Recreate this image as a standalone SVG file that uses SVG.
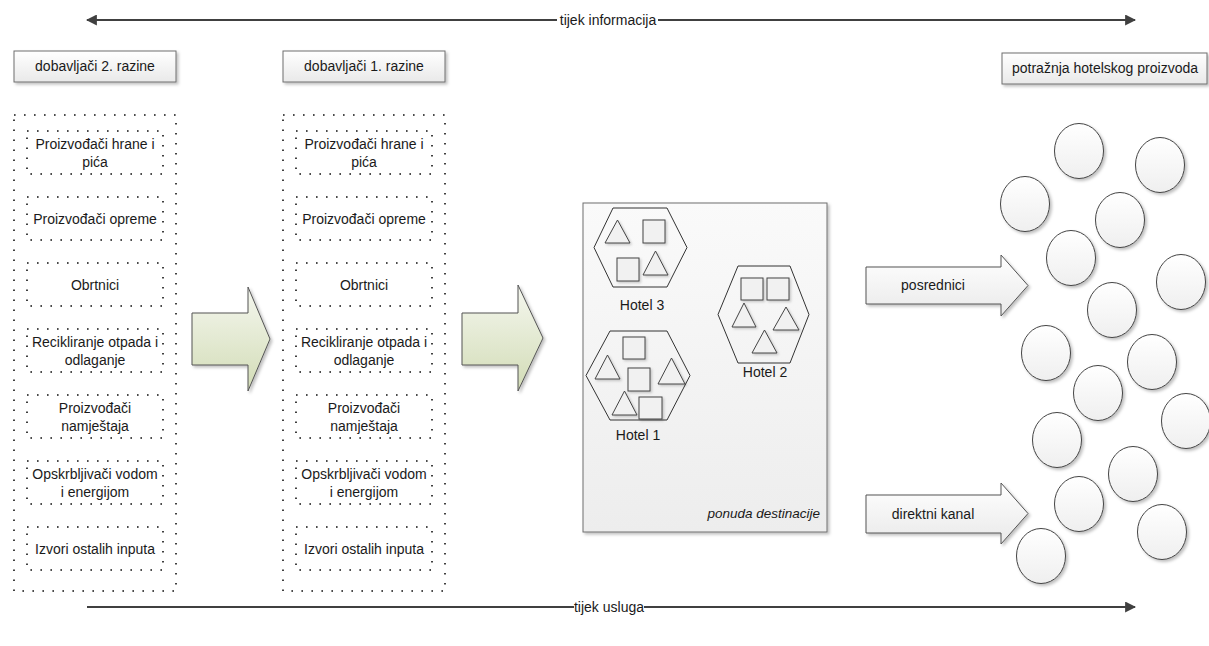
<svg xmlns="http://www.w3.org/2000/svg" width="1209" height="646" viewBox="0 0 1209 646">
<style>
text{font-family:"Liberation Sans",Arial,sans-serif;font-size:14px;fill:#1a1a1a;text-anchor:middle}
.hdr{fill:url(#gGray);stroke:#6e6e6e;stroke-width:1;filter:url(#sh)}
.dot{fill:none;stroke:#111;stroke-width:1.6;stroke-dasharray:1.6 8.4}
.flow{stroke:#404040;stroke-width:2;fill:none}
.green{fill:url(#gGreen);stroke:#555;stroke-width:1;filter:url(#sh)}
.grey{fill:url(#gGray);stroke:#555;stroke-width:1;filter:url(#sh)}
.hex{fill:none;stroke:#333;stroke-width:1}
.sq{fill:#f1f1f1;stroke:#444;stroke-width:1;filter:url(#sh2)}
.cir{fill:url(#gCir);stroke:#444;stroke-width:1;filter:url(#sh)}
.it{font-style:italic;font-size:13.5px}
</style>
<defs>
<linearGradient id="gGray" x1="0" y1="0" x2="0" y2="1"><stop offset="0" stop-color="#ffffff"/><stop offset="1" stop-color="#e9e9e9"/></linearGradient>
<linearGradient id="gCir" x1="0" y1="0" x2="0" y2="1"><stop offset="0" stop-color="#ffffff"/><stop offset="1" stop-color="#efefef"/></linearGradient>
<linearGradient id="gGreen" x1="0" y1="0" x2="0" y2="1"><stop offset="0" stop-color="#f5f7ef"/><stop offset="1" stop-color="#d2dcb6"/></linearGradient>
<linearGradient id="gBox" x1="0" y1="0" x2="0" y2="1"><stop offset="0" stop-color="#fafafa"/><stop offset="1" stop-color="#ededed"/></linearGradient>
<filter id="sh" x="-20%" y="-20%" width="150%" height="150%"><feDropShadow dx="2" dy="2" stdDeviation="1.5" flood-color="#000" flood-opacity="0.25"/></filter>
<filter id="sh2" x="-20%" y="-20%" width="150%" height="150%"><feDropShadow dx="1.5" dy="1.5" stdDeviation="1" flood-color="#000" flood-opacity="0.2"/></filter>
<marker id="ah" viewBox="0 0 10 10" refX="9" refY="5" markerWidth="11" markerHeight="11" markerUnits="userSpaceOnUse" orient="auto-start-reverse"><path d="M0,0 L10,5 L0,10 Z" fill="#404040"/></marker>
</defs>
<rect width="1209" height="646" fill="#ffffff"/>

<g id="connectors">
  <line class="flow" x1="87" y1="20" x2="557" y2="20" marker-start="url(#ah)"/>
  <line class="flow" x1="658" y1="20" x2="1135" y2="20" marker-end="url(#ah)"/>
  <text x="608" y="25">tijek informacija</text>
  <line class="flow" x1="87" y1="607" x2="574" y2="607"/>
  <line class="flow" x1="644" y1="607" x2="1135" y2="607" marker-end="url(#ah)"/>
  <text x="609" y="612">tijek usluga</text>
  <path class="green" d="M192,313 L248,313 L248,287 L270,339 L248,391 L248,365 L192,365 Z"/>
  <path class="green" d="M462,313 L518,313 L518,285 L543,338 L518,391 L518,365 L462,365 Z"/>
  <g id="posrednici">
    <path class="grey" d="M866,267 L1001,267 L1001,255 L1028,285.5 L1001,316 L1001,304 L866,304 Z"/>
    <text x="933" y="290">posrednici</text>
  </g>
  <g id="direktni">
    <path class="grey" d="M866,495 L1001,495 L1001,483 L1028,513.5 L1001,544 L1001,533 L866,533 Z"/>
    <text x="933" y="519">direktni kanal</text>
  </g>
</g>

<g id="hdr2">
  <rect class="hdr" x="14" y="51" width="162" height="31"/>
  <text x="95" y="71">dobavljači 2. razine</text>
</g>
<g id="hdr1">
  <rect class="hdr" x="283" y="51" width="162" height="31"/>
  <text x="364" y="71">dobavljači 1. razine</text>
</g>
<g id="hdrDemand">
  <rect class="hdr" x="1002" y="53" width="205" height="31"/>
  <text x="1105" y="73">potražnja hotelskog proizvoda</text>
</g>

<g id="col2">
  <rect class="dot" x="14" y="115" width="162" height="476"/>
  <g id="c2-1"><rect class="dot" x="27" y="131" width="136" height="43"/><text x="95" y="149">Proizvođači hrane i</text><text x="95" y="167">pića</text></g>
  <g id="c2-2"><rect class="dot" x="27" y="197" width="136" height="43"/><text x="95" y="223.5">Proizvođači opreme</text></g>
  <g id="c2-3"><rect class="dot" x="27" y="263" width="136" height="43"/><text x="95" y="289.5">Obrtnici</text></g>
  <g id="c2-4"><rect class="dot" x="27" y="329" width="136" height="43"/><text x="95" y="347">Recikliranje otpada i</text><text x="95" y="365">odlaganje</text></g>
  <g id="c2-5"><rect class="dot" x="27" y="395" width="136" height="43"/><text x="95" y="413">Proizvođači</text><text x="95" y="431">namještaja</text></g>
  <g id="c2-6"><rect class="dot" x="27" y="461" width="136" height="43"/><text x="95" y="479">Opskrbljivači vodom</text><text x="95" y="497">i energijom</text></g>
  <g id="c2-7"><rect class="dot" x="27" y="527" width="136" height="43"/><text x="95" y="553.5">Izvori ostalih inputa</text></g>
</g>

<g id="col1">
  <rect class="dot" x="283" y="115" width="162" height="476"/>
  <g id="c1-1"><rect class="dot" x="296" y="131" width="136" height="43"/><text x="364" y="149">Proizvođači hrane i</text><text x="364" y="167">pića</text></g>
  <g id="c1-2"><rect class="dot" x="296" y="197" width="136" height="43"/><text x="364" y="223.5">Proizvođači opreme</text></g>
  <g id="c1-3"><rect class="dot" x="296" y="263" width="136" height="43"/><text x="364" y="289.5">Obrtnici</text></g>
  <g id="c1-4"><rect class="dot" x="296" y="329" width="136" height="43"/><text x="364" y="347">Recikliranje otpada i</text><text x="364" y="365">odlaganje</text></g>
  <g id="c1-5"><rect class="dot" x="296" y="395" width="136" height="43"/><text x="364" y="413">Proizvođači</text><text x="364" y="431">namještaja</text></g>
  <g id="c1-6"><rect class="dot" x="296" y="461" width="136" height="43"/><text x="364" y="479">Opskrbljivači vodom</text><text x="364" y="497">i energijom</text></g>
  <g id="c1-7"><rect class="dot" x="296" y="527" width="136" height="43"/><text x="364" y="553.5">Izvori ostalih inputa</text></g>
</g>

<g id="destination">
  <rect x="583" y="203" width="244" height="329" fill="url(#gBox)" stroke="#6e6e6e" stroke-width="1" filter="url(#sh)"/>
  <text class="it" x="820" y="518" style="text-anchor:end">ponuda destinacije</text>
  <g id="hotel3">
    <polygon class="hex" points="594,247.5 613,208 667,208 687,247.5 667,287 613,287"/>
    <polygon class="sq" points="605,243 617.5,220 630,243"/>
    <rect class="sq" x="643" y="220" width="22" height="23"/>
    <rect class="sq" x="617" y="258" width="22" height="23"/>
    <polygon class="sq" points="643,275 655.5,251 668,275"/>
    <text x="642" y="310">Hotel 3</text>
  </g>
  <g id="hotel1">
    <polygon class="hex" points="586,375.5 610,331 667,331 690,375.5 667,420 610,420"/>
    <rect class="sq" x="623" y="337" width="22" height="22"/>
    <polygon class="sq" points="595,379 607.5,355 620,379"/>
    <rect class="sq" x="628" y="368" width="22" height="23"/>
    <polygon class="sq" points="658,384 671.5,358 685,384"/>
    <polygon class="sq" points="612,415 624.5,391 637,415"/>
    <rect class="sq" x="639" y="397" width="23" height="22"/>
    <text x="638" y="440">Hotel 1</text>
  </g>
  <g id="hotel2">
    <polygon class="hex" points="718,314.5 738,266 790,266 809,314.5 790,363 738,363"/>
    <rect class="sq" x="741" y="278" width="22" height="22"/>
    <rect class="sq" x="767" y="278" width="22" height="22"/>
    <polygon class="sq" points="732,327 744,303 756,327"/>
    <polygon class="sq" points="773,330 786,307 799,330"/>
    <polygon class="sq" points="752,353 764.5,330 777,353"/>
    <text x="765" y="377">Hotel 2</text>
  </g>
</g>

<g id="demand">
  <ellipse class="cir" cx="1079" cy="151" rx="24.5" ry="27.5"/>
  <ellipse class="cir" cx="1160" cy="165" rx="24.5" ry="27.5"/>
  <ellipse class="cir" cx="1025" cy="204" rx="24.5" ry="27.5"/>
  <ellipse class="cir" cx="1120" cy="220" rx="24.5" ry="27.5"/>
  <ellipse class="cir" cx="1071" cy="258" rx="24.5" ry="27.5"/>
  <ellipse class="cir" cx="1181" cy="282" rx="24.5" ry="27.5"/>
  <ellipse class="cir" cx="1112" cy="310" rx="24.5" ry="27.5"/>
  <ellipse class="cir" cx="1046" cy="353" rx="24.5" ry="27.5"/>
  <ellipse class="cir" cx="1152" cy="362" rx="24.5" ry="27.5"/>
  <ellipse class="cir" cx="1098" cy="393" rx="24.5" ry="27.5"/>
  <ellipse class="cir" cx="1186" cy="421" rx="24.5" ry="27.5"/>
  <ellipse class="cir" cx="1057" cy="440" rx="24.5" ry="27.5"/>
  <ellipse class="cir" cx="1133" cy="474" rx="24.5" ry="27.5"/>
  <ellipse class="cir" cx="1079" cy="504" rx="24.5" ry="27.5"/>
  <ellipse class="cir" cx="1162" cy="532" rx="24.5" ry="27.5"/>
  <ellipse class="cir" cx="1041" cy="556" rx="24.5" ry="27.5"/>
</g>
</svg>
